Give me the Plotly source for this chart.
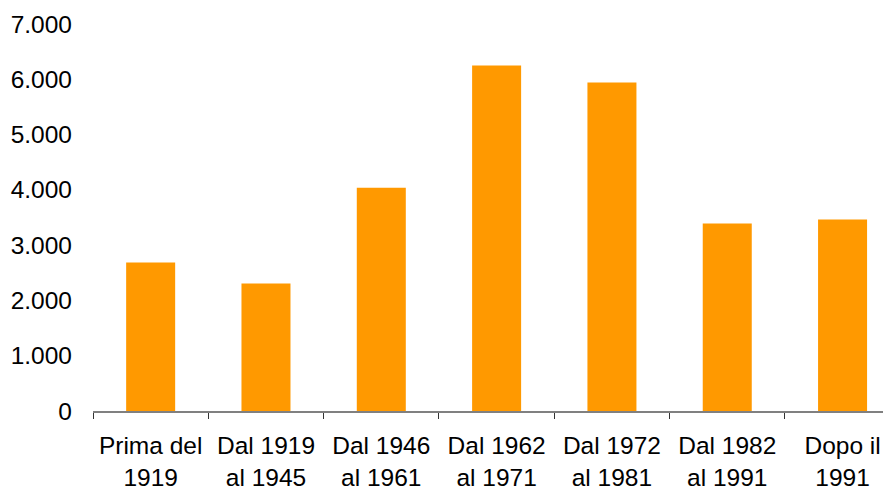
import plotly.graph_objects as go

categories = ["Prima del<br>1919", "Dal 1919<br>al 1945", "Dal 1946<br>al 1961",
              "Dal 1962<br>al 1971", "Dal 1972<br>al 1981", "Dal 1982<br>al 1991",
              "Dopo il<br>1991"]
values = [2685, 2305, 4040, 6250, 5940, 3390, 3465]
y_ticks = [0, 1000, 2000, 3000, 4000, 5000, 6000, 7000]

fig = go.Figure(go.Bar(x=categories, y=values, marker_color="#FF9900",
                       marker_line_width=0, width=0.425))

# page body has an 8px default margin, so offsets compensate for it
fig.update_layout(
    width=891, height=490,
    margin=dict(l=85, r=8, t=16, b=87, autoexpand=False),
    plot_bgcolor="white", paper_bgcolor="white",
    separators=",.",
    font=dict(family="Liberation Sans, Arial, sans-serif", size=24.5, color="black"),
    showlegend=False,
)
fig.update_xaxes(
    range=[-0.5, 6.42], showline=True, linecolor="#808080", linewidth=2,
    ticks="outside", tickson="boundaries", ticklen=6, tickcolor="#333333", tickwidth=1,
    showgrid=False, tickangle=0, automargin=False, ticklabelstandoff=12,
)
fig.update_yaxes(
    range=[0, 7000], tickvals=y_ticks, tickformat=",d", showgrid=False,
    zeroline=False, showline=False, ticks="", ticklabelstandoff=20, automargin=False,
)

fig.write_html("out.html")
